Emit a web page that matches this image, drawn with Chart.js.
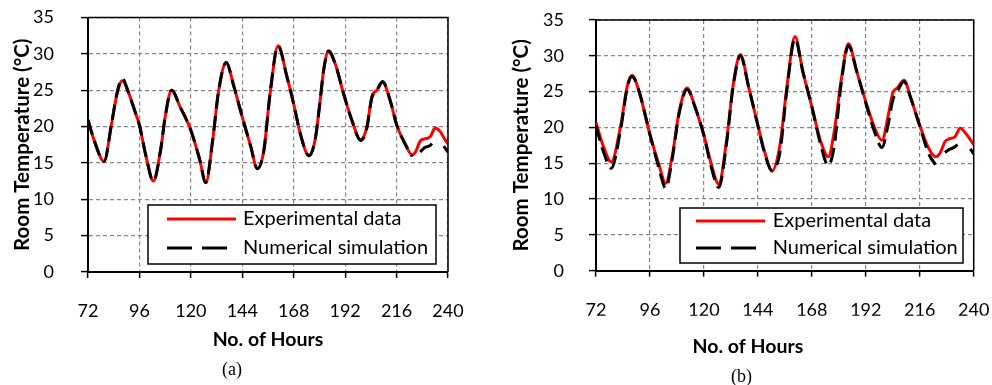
<!DOCTYPE html>
<html>
<head>
<meta charset="utf-8">
<script src="https://cdn.jsdelivr.net/npm/chart.js@4.4.1/dist/chart.umd.min.js"></script>
<style>
  body { margin: 0; background: #fff; }
  .panel { position: absolute; top: 0; width: 496px; height: 385px; }
  .tag { position: absolute; font-family: 'Liberation Serif', 'Times New Roman', serif; font-size: 18px; color: #000; }
</style>
</head>
<body>
<div class="panel" style="left:0px">
  <canvas id="chartA" width="496" height="385"></canvas>
  <div class="tag" style="left:222px; top:359px">(a)</div>
</div>
<div class="panel" style="left:496px">
  <canvas id="chartB" width="496" height="385"></canvas>
  <div class="tag" style="left:235px; top:366px">(b)</div>
</div>
<script>
// tick values
const xTicks = [72, 96, 120, 144, 168, 192, 216, 240];
const yTicks = [0, 5, 10, 15, 20, 25, 30, 35];

// (a) hours and temperatures (null = gap in simulation)
const hoursA = [72, 75, 79.5, 83, 85.5, 88, 91, 94, 96, 99, 102.5, 106, 108, 111, 115, 120, 124, 127, 130, 133,
  136.5, 140, 144, 148, 151, 154, 157, 160.7, 164.8, 168, 171, 175.1, 178, 180, 182, 184.2, 187.4, 191.2, 195.1, 199.2,
  202, 204.5, 206.8, 209.5, 213, 216.1, 220, 223.3, 225, 227, 229, 231.7, 234, 236.4, 238, 240];
const expA = [20.9, 18.0, 15.2, 20.4, 24.4, 26.3, 24.6, 22.0, 20.2, 16.0, 12.5, 17.0, 21.3, 25.0, 22.7, 19.5, 15.6, 12.3, 17.7, 25.0,
  28.8, 25.6, 21.3, 17.2, 14.2, 16.6, 24.6, 31.1, 26.9, 23.1, 19.1, 16.0, 18.2, 22.7, 27.8, 30.4, 28.6, 24.6, 20.9, 18.2,
  19.8, 24.1, 25.0, 26.1, 23.6, 20.2, 17.6, 16.1, 16.6, 18.0, 18.3, 18.6, 19.8, 19.3, 18.5, 17.6];
const simA = [20.9, 18.0, 15.2, 20.4, 24.6, 26.6, 24.6, 22.0, 20.2, 16.0, 12.5, 17.0, 21.3, 25.0, 22.7, 19.5, 15.6, 12.3, 17.7, 25.0,
  28.8, 25.6, 21.3, 17.2, 14.2, 16.6, 24.6, 31.1, 26.9, 23.1, 19.1, 16.0, 18.2, 22.7, 27.8, 30.4, 28.6, 24.6, 20.9, 18.1,
  19.6, 24.0, 25.0, 26.2, 23.6, 20.2, 17.6, 15.9, null, 16.5, 17.1, 17.4, 18.4, null, 17.3, 16.5];

// (b) hours and temperatures
const hoursB = [72, 75, 78.8, 83, 86, 88, 91, 96, 100, 103, 106, 109, 112.5, 116, 120, 123, 126.6, 130, 133, 136.2,
  140, 144, 147, 150.3, 153.8, 157, 160.5, 164, 168, 172, 175.3, 178, 181, 184.3, 188, 192, 196, 199.2, 202, 204,
  206, 209, 212, 216, 220, 223, 225, 227.2, 229, 231.7, 234, 236.9, 238.5, 240];
const expB = [20.7, 17.6, 15.2, 20.3, 25.9, 27.3, 25.2, 19.0, 14.8, 12.2, 16.2, 22.2, 25.5, 22.9, 18.9, 15.2, 12.1, 18.0, 25.9, 30.2,
  25.5, 20.3, 16.6, 13.9, 17.5, 25.9, 32.7, 27.8, 22.9, 18.0, 15.9, 19.5, 26.5, 31.7, 27.8, 23.6, 19.9, 18.2, 21.7, 24.8,
  25.5, 26.6, 24.1, 20.3, 17.1, 15.9, 16.4, 18.0, 18.4, 18.7, 19.9, 19.0, 18.3, 17.6];
const simB = [20.2, 16.9, 14.3, 19.8, 25.7, 27.1, 25.2, 19.0, 14.3, 11.5, 15.8, 22.0, 25.3, 22.9, 18.9, 14.8, 11.6, 17.6, 25.7, 30.0,
  25.5, 20.3, 16.4, 14.0, 16.5, 25.5, 32.4, 27.8, 22.9, 17.5, 14.7, 17.5, 26.0, 31.4, 27.8, 23.4, 19.3, 17.2, 20.5, 23.8,
  25.0, 26.4, 24.1, 20.2, 16.3, 14.8, null, 16.5, 16.9, 17.3, 18.1, null, 17.0, 16.3];

const labels = ['Experimental data', 'Numerical simulation'];

Chart.defaults.font.family = 'Lato';
Chart.defaults.color = '#000';

// frame, legend box and x caption
const extras = {
  id: 'extras',
  afterDatasetsDraw(chart, args, o) {
    const ctx = chart.ctx;
    const a = chart.chartArea;
    ctx.save();
    ctx.strokeStyle = '#000';
    ctx.lineWidth = 1.5;
    ctx.beginPath();
    ctx.moveTo(a.left, a.top);
    ctx.lineTo(a.right, a.top);
    ctx.lineTo(a.right, a.bottom);
    ctx.stroke();

    // legend
    const bx = a.right - o.right - o.w;
    const by = a.bottom - o.bottom - o.h;
    ctx.fillStyle = '#fff';
    ctx.fillRect(bx, by, o.w, o.h);
    ctx.lineWidth = 1.5;
    ctx.strokeRect(bx, by, o.w, o.h);
    ctx.font = '20px Lato';
    ctx.textBaseline = 'middle';
    ctx.fillStyle = '#000';
    chart.data.datasets.forEach((ds, i) => {
      const y = by + o.rows[i];
      ctx.strokeStyle = ds.borderColor;
      ctx.lineWidth = 3;
      ctx.setLineDash(ds.borderDash.length ? [25, 10] : []);
      ctx.beginPath();
      ctx.moveTo(bx + o.lineX, y);
      ctx.lineTo(bx + o.lineX + 69, y);
      ctx.stroke();
      ctx.setLineDash([]);
      ctx.fillText(ds.label, bx + o.textX, y);
    });

    // x caption
    ctx.font = 'bold 19.5px Lato';
    ctx.textAlign = 'center';
    ctx.fillText('No. of Hours', (a.left + a.right) / 2 + o.capDx, o.capY);
    ctx.restore();
  }
};

function makeChart(id, hours, exp, sim, lay) {
  return new Chart(document.getElementById(id), {
    type: 'line',
    data: {
      datasets: [
        {
          label: labels[0],
          data: exp.map((v, i) => ({x: hours[i], y: v})),
          borderColor: '#ff0000',
          borderWidth: 3,
          borderDash: [],
          pointRadius: 0,
          cubicInterpolationMode: 'monotone',
          order: 2
        },
        {
          label: labels[1],
          data: sim.map((v, i) => ({x: hours[i], y: v})),
          borderColor: '#000000',
          borderWidth: 3,
          borderDash: [15, 7],
          pointRadius: 0,
          cubicInterpolationMode: 'monotone',
          spanGaps: false,
          order: 1
        }
      ]
    },
    options: {
      responsive: false,
      animation: false,
      layout: { padding: lay.padding },
      plugins: {
        legend: { display: false },
        tooltip: { enabled: false },
        extras: lay.legend
      },
      scales: {
        x: {
          type: 'linear',
          min: 72,
          max: 240,
          afterBuildTicks: (s) => { s.ticks = xTicks.map(v => ({value: v})); },
          afterFit: (s) => { s.height = 45; s.paddingLeft = 0; s.paddingRight = 0; },
          ticks: { font: { size: 18 }, padding: lay.xPad, maxRotation: 0 },
          grid: { color: '#888', lineWidth: 1.2, tickColor: '#000', tickLength: 6, tickWidth: 1.5 },
          border: { color: '#000', width: 2, dash: [4, 3] }
        },
        y: {
          min: 0,
          max: 35,
          afterBuildTicks: (s) => { s.ticks = yTicks.map(v => ({value: v})); },
          afterFit: (s) => { s.width = lay.yWidth; s.paddingTop = 0; s.paddingBottom = 0; },
          ticks: { font: { size: 18 }, padding: lay.yPad },
          grid: { color: '#888', lineWidth: 1.2, tickColor: '#000', tickLength: 7, tickWidth: 1.5 },
          border: { color: '#000', width: 2, dash: [4, 3] },
          title: { display: true, text: 'Room Temperature (°C)', font: { size: 20.5, weight: 'bold' }, padding: 0 }
        }
      }
    },
    plugins: [extras]
  });
}

makeChart('chartA', hoursA, expA, simA, {
  padding: { left: 10, top: 17.5, right: 48, bottom: 68 },
  yWidth: 78, yPad: 27, xPad: 22,
  legend: { right: 12, bottom: 8, w: 288, h: 59, rows: [14, 43], lineX: 19, textX: 95, capDx: 0, capY: 340 }
});
makeChart('chartB', hoursB, expB, simB, {
  padding: { left: 13, top: 20, right: 18.3, bottom: 69.3 },
  yWidth: 87, yPad: 25, xPad: 23,
  legend: { right: 10.7, bottom: 7.7, w: 283, h: 55, rows: [13, 40], lineX: 16, textX: 92.7, capDx: -37, capY: 347 }
});
</script>
</body>
</html>
